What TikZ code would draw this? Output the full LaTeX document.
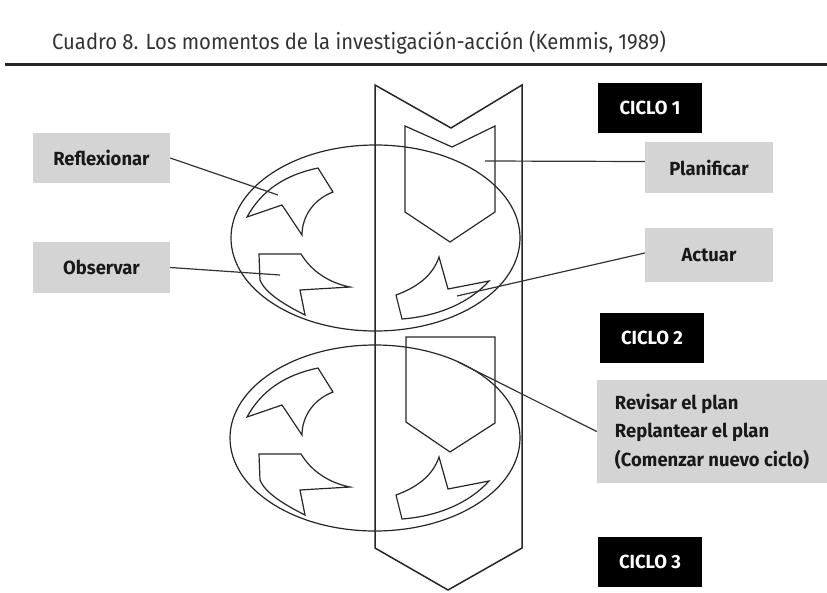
\documentclass[tikz,border=0pt]{standalone}
\usepackage{fontspec}
\usetikzlibrary{calc}
\newfontfamily\labfont[FakeStretch=0.97]{Fira Sans}
\newfontfamily\titfont[FakeStretch=0.92]{Fira Sans}
\begin{document}
\begin{tikzpicture}[x=1pt,y=-1pt,
  shp/.style={draw=black!85, line width=1.2pt, line join=miter},
  conn/.style={draw=black!80, line width=1.2pt},
  lbl/.style={fill=black!17, draw=none, inner sep=0pt, text=black!90,
    font=\labfont\bfseries\fontsize{19}{28.5}\selectfont},
  ciclo/.style={fill=black, text=white, inner sep=0pt, minimum width=104pt, minimum height=50pt,
    font=\labfont\bfseries\fontsize{19}{22}\selectfont}]
\useasboundingbox (0,0) rectangle (827,592);
% title and rule
\node[anchor=base west, inner sep=0pt, text=black!80, font=\titfont\fontsize{22}{26}\selectfont] (title) at (52,49)
  {Cuadro 8. Los momentos de la investigación-acción (Kemmis, 1989)};
\draw[line width=2.5pt, black!85] (5,64.5) -- (827,64.5);
% ellipses
\draw[shp] (375.5,238) ellipse [x radius=144.5, y radius=93];
\draw[shp] (375,438) ellipse [x radius=145, y radius=93];
% chevron
\draw[shp, line width=1.5pt] (375,85) -- (451,128) -- (522,85) -- (522,548) -- (448,590) -- (375,548) -- cycle;
% upper cycle shapes
\draw[shp] (405,126) -- (452,147) -- (495,126) -- (495,212) -- (450,242) -- (405,212) -- cycle;
\draw[shp] (247,217) .. controls (262,190) and (285,175) .. (318,168) -- (333,192)
  .. controls (312,200) and (302,218) .. (302,235) -- (282,205) -- cycle;
\draw[shp] (259,254) -- (301,254) .. controls (312,272) and (330,283) .. (350,287) -- (300,290) -- (305,315)
  .. controls (285,305) and (265,293) .. (260,280) -- cycle;
\draw[shp] (439,257) -- (448,289) -- (489,281) .. controls (470,302) and (440,316) .. (402,319) -- (396,295)
  .. controls (418,287) and (433,275) .. (439,257) -- cycle;
% lower cycle shapes
\draw[shp] (406,337) -- (495,337) -- (495,423) -- (450,452) -- (406,422) -- cycle;
\begin{scope}[yshift=-200pt]
\draw[shp] (247,217) .. controls (262,190) and (285,175) .. (318,168) -- (333,192)
  .. controls (312,200) and (302,218) .. (302,235) -- (282,205) -- cycle;
\draw[shp] (259,254) -- (301,254) .. controls (312,272) and (330,283) .. (350,287) -- (300,290) -- (305,315)
  .. controls (285,305) and (265,293) .. (260,280) -- cycle;
\draw[shp] (439,257) -- (448,289) -- (489,281) .. controls (470,302) and (440,316) .. (402,319) -- (396,295)
  .. controls (418,287) and (433,275) .. (439,257) -- cycle;
\end{scope}
% labels
\node[lbl, minimum width=137pt, minimum height=50pt] (refl) at (101.5,158) {Reflexionar};
\node[lbl, minimum width=137pt, minimum height=51pt] (obs) at (101.5,267.5) {Observar};
\node[lbl, minimum width=128pt, minimum height=51pt] (plan) at (709,167.5) {Planificar};
\node[lbl, minimum width=128pt, minimum height=54pt] (act) at (709,255) {Actuar};
\node[lbl, minimum width=230pt, minimum height=103pt, align=left] (rev) at (712,431.5)
  {Revisar el plan\\Replantear el plan\\(Comenzar nuevo ciclo)};
\node[ciclo] (c1) at (650,108) {CICLO 1};
\node[ciclo] (c2) at (652,338) {CICLO 2};
\node[ciclo] (c3) at (650,562) {CICLO 3};
% connector end points
\coordinate (reflP) at (278,195);
\coordinate (obsP) at (280,275);
\coordinate (planP) at (485,161);
\coordinate (actP) at (457,296);
\coordinate (revP) at (458,362);
\draw[conn] (refl.east) -- (reflP);
\draw[conn] (obs.east) -- (obsP);
\draw[conn] ($(plan.west)+(0,-6)$) -- (planP);
\draw[conn] ($(act.west)+(0,-2)$) -- (actP);
\draw[conn] (rev.west) -- (revP);
\end{tikzpicture}
\end{document}
